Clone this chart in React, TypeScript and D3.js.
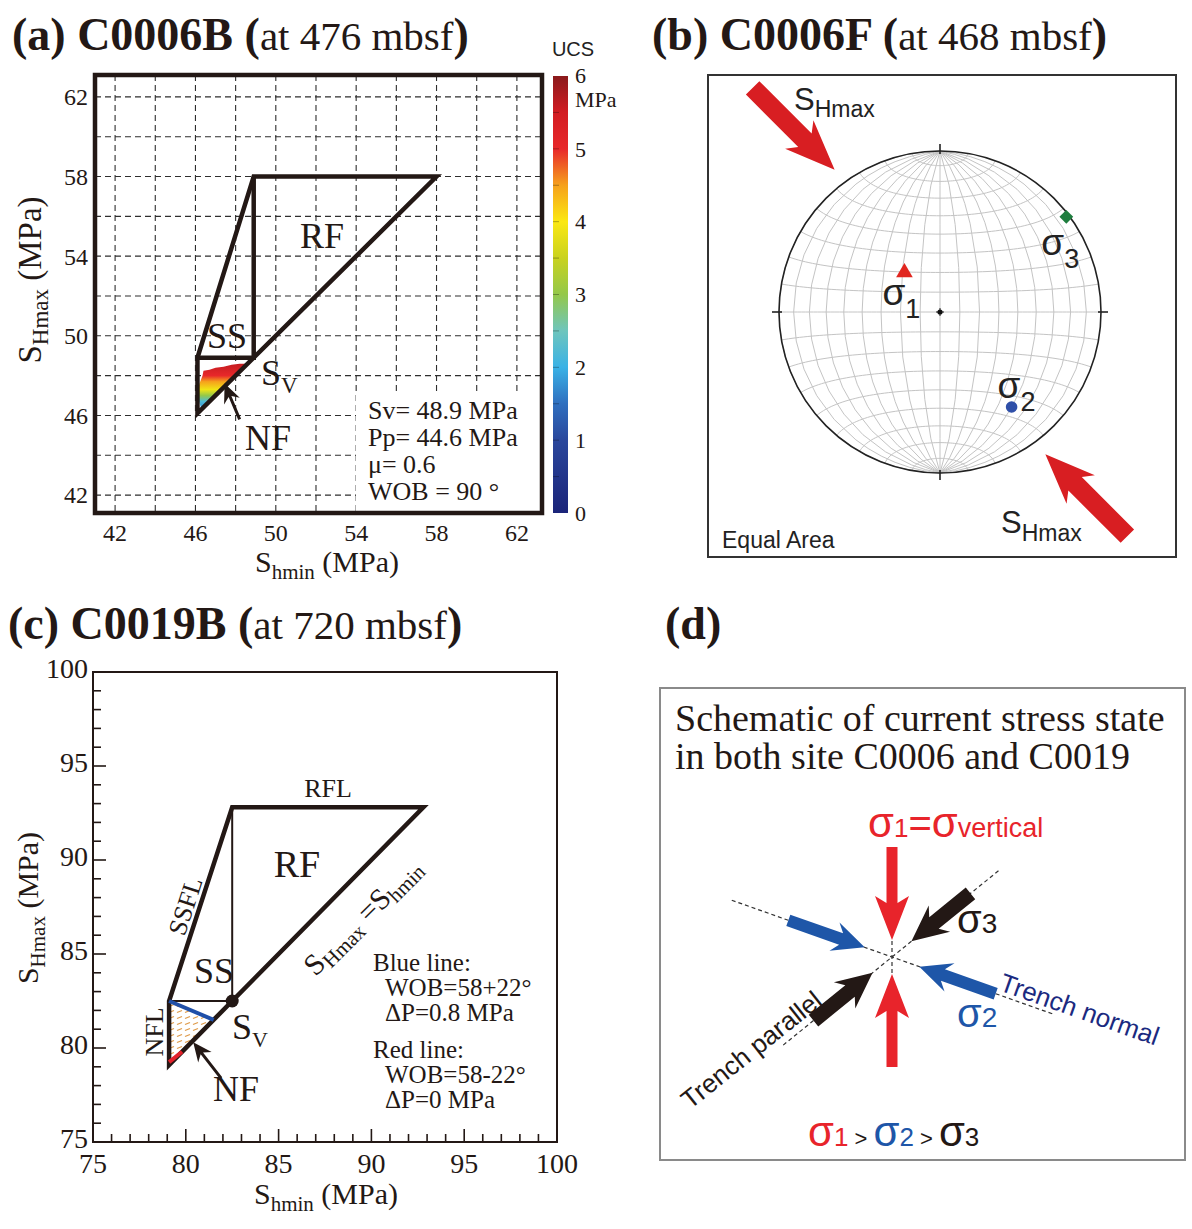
import React from 'react';
import * as d3 from 'd3';

const SERIF = '"Liberation Serif", "Times New Roman", serif';
const SANS = '"Liberation Sans", Arial, sans-serif';
const INK = '#231815';

// ---------- (a) C0006B, stress polygon ----------
const aTickValues = [42, 46, 50, 54, 58, 62];
const aGridValues = [42, 44, 46, 48, 50, 52, 54, 56, 58, 60, 62];
const aSv = 48.9;
const aShminMin = 46.1;
const aShmaxMax = 58;
const aInfoLines = ['Sv= 48.9 MPa', 'Pp= 44.6 MPa', 'μ= 0.6', 'WOB = 90 °'];
// outline of the UCS patch, [Shmin, SHmax] pairs, closed along SHmax = Shmin
const aUcsShmin = [46.3, 46.15, 46.1, 46.2, 46.35, 46.4, 46.7, 47.0, 47.4, 47.8, 48.2, 48.6];
const aUcsShmax = [46.3, 46.8, 47.2, 47.6, 48.0, 48.25, 48.3, 48.4, 48.45, 48.55, 48.6, 48.6];
// UCS needed (MPa) by SHmax level inside the patch
const aUcsLevel = [46.4, 46.7, 47.0, 47.3, 47.7, 48.0, 48.6];
const aUcsValue = [1.8, 2.2, 3.0, 3.9, 4.5, 5.0, 5.6];
const ucsTicks = [0, 1, 2, 3, 4, 5, 6];
const jetValues = [0, 1, 1.5, 2, 2.5, 3, 3.5, 4, 4.5, 5, 5.5, 6];
const jetColors = ['#1b2479', '#2a479c', '#2f6fbf', '#3ab2e6', '#6ec5bd', '#94c84a', '#c9d21f', '#fbe812', '#f6a11c', '#e8282a', '#d21c22', '#8a1a1c'];

// ---------- (b) C0006F, stereonet ----------
const stressAxes = [
  { name: '1', trend: 318, plunge: 63, color: '#e1261f', symbol: 'triangle' },
  { name: '2', trend: 143, plunge: 27, color: '#2f4fa8', symbol: 'circle' },
  { name: '3', trend: 53, plunge: 2, color: '#1e7d3e', symbol: 'diamond' },
];
const shmaxAzimuth = 135;

// ---------- (c) C0019B, stress polygon ----------
const cTickValues = [75, 80, 85, 90, 95, 100];
const cMinorValues = [76, 77, 78, 79, 81, 82, 83, 84, 86, 87, 88, 89, 91, 92, 93, 94, 96, 97, 98, 99];
const cSv = 82.5;
const cShminMin = 79.1;
const cShmaxMax = 92.8;
const cBlueShmin = [79.1, 81.5];
const cBlueShmax = [82.5, 81.5];
const cRedShmin = [79.1, 79.8];
const cRedShmax = [79.25, 79.8];
const cInfoLines = ['Blue line:', 'WOB=58+22°', 'ΔP=0.8 MPa', 'Red line:', 'WOB=58-22°', 'ΔP=0 MPa'];

// ---------- (d) schematic ----------
// screen angle of each principal axis (deg, clockwise from +x)
const schematicAxes = [
  { name: '1', angle: 90, color: '#e8242b' },
  { name: '2', angle: 19.5, color: '#1e56a8' },
  { name: '3', angle: -39, color: INK },
];

type Pt = [number, number];

function arrowShape(tail: Pt, tip: Pt, shaft: number, head: number, headLen: number, notch = 0): string {
  const [x1, y1] = tail;
  const [x2, y2] = tip;
  const L = Math.hypot(x2 - x1, y2 - y1);
  const ux = (x2 - x1) / L, uy = (y2 - y1) / L;
  const nx = -uy, ny = ux;
  const bx = x2 - ux * headLen, by = y2 - uy * headLen;
  const sx = bx + ux * notch, sy = by + uy * notch;
  const pts: Pt[] = [
    [x1 + nx * shaft / 2, y1 + ny * shaft / 2],
    [sx + nx * shaft / 2, sy + ny * shaft / 2],
    [bx + nx * head / 2, by + ny * head / 2],
    [x2, y2],
    [bx - nx * head / 2, by - ny * head / 2],
    [sx - nx * shaft / 2, sy - ny * shaft / 2],
    [x1 - nx * shaft / 2, y1 - ny * shaft / 2],
  ];
  return (d3.line()(pts) ?? '') + 'Z';
}

function Title({ x, y, tag, site, depth }: { x: number; y: number; tag: string; site?: string; depth?: string }) {
  return (
    <text x={x} y={y} fontFamily={SERIF} fill={INK}>
      <tspan fontWeight="bold" fontSize={46}>{tag}{site ? ` ${site} (` : ''}</tspan>
      {depth && <tspan fontSize={41}>{depth}</tspan>}
      {depth && <tspan fontWeight="bold" fontSize={46}>)</tspan>}
    </text>
  );
}

function PanelA() {
  const x = d3.scaleLinear().domain([41, 63.25]).range([95, 542]);
  const y = d3.scaleLinear().domain([41.1, 63.1]).range([513, 75]);
  const line = d3.line<Pt>().x(d => x(d[0])).y(d => y(d[1]));
  const outline: Pt[] = [[aShminMin, aShminMin], [aShminMin, aSv], [aSv, aShmaxMax], [aShmaxMax, aShmaxMax]];
  const patch: Pt[] = aUcsShmin.map((s, i) => [s, aUcsShmax[i]]);
  const jet = d3.scaleLinear<string>().domain(jetValues).range(jetColors);
  const ucsY = d3.scaleLinear().domain([0, 6]).range([513, 76]);
  const g0 = y(aUcsLevel[0]);
  const g1 = y(aUcsLevel[aUcsLevel.length - 1]);
  const [x0, x1] = x.range();
  const [yb, yt] = y.range();
  const nfTail: Pt = [x(48.2), y(45.8)];
  const nfTip: Pt = [x(47.45), y(47.6)];
  return (
    <g>
      <defs>
        <linearGradient id="ucsPatch" gradientUnits="userSpaceOnUse" x1={0} x2={0} y1={g0} y2={g1}>
          {aUcsLevel.map((lv, i) => (
            <stop key={i} offset={(y(lv) - g0) / (g1 - g0)} stopColor={jet(aUcsValue[i])} />
          ))}
        </linearGradient>
        <linearGradient id="ucsBar" x1={0} x2={0} y1={1} y2={0}>
          {jetValues.map((v, i) => (
            <stop key={i} offset={v / 6} stopColor={jetColors[i]} />
          ))}
        </linearGradient>
      </defs>
      <Title x={12} y={50} tag="(a)" site="C0006B" depth="at 476 mbsf" />

      {/* dashed grid */}
      {aGridValues.map(v => (
        <g key={v} stroke="#2e2e2e" strokeWidth={1.1} strokeDasharray="6 4">
          <line x1={x(v)} x2={x(v)} y1={yt} y2={yb} />
          <line x1={x0} x2={x1} y1={y(v)} y2={y(v)} />
        </g>
      ))}
      {/* blank area behind the parameter box */}
      <rect x={356} y={394} width={x1 - 356} height={yb - 394} fill="#fff" />

      {/* UCS patch */}
      <path d={line(patch) + 'Z'} fill="url(#ucsPatch)" />

      {/* stress polygon */}
      <g fill="none" stroke={INK} strokeWidth={4.5} strokeLinejoin="miter">
        <path d={line(outline) + 'Z'} />
        <path d={line([[aShminMin, aSv], [aSv, aSv], [aSv, aShmaxMax]]) ?? ''} />
      </g>
      <rect x={x0} y={yt} width={x1 - x0} height={yb - yt} fill="none" stroke={INK} strokeWidth={4.5} />

      {/* labels */}
      <g fontFamily={SERIF} fill={INK}>
        <text x={227} y={348} fontSize={36} textAnchor="middle">SS</text>
        <text x={322} y={248} fontSize={36} textAnchor="middle">RF</text>
        <text x={261} y={385} fontSize={36}>S<tspan fontSize={23} dy={8}>V</tspan></text>
        <text x={268} y={450} fontSize={36} textAnchor="middle">NF</text>
        {aInfoLines.map((t, i) => (
          <text key={i} x={368} y={419 + i * 27} fontSize={26}>{t}</text>
        ))}
      </g>
      <path d={arrowShape(nfTail, nfTip, 3, 17, 19, 5)} fill={INK} />

      {/* axes labels */}
      <g fontFamily={SERIF} fill={INK} fontSize={24}>
        {aTickValues.map(v => (
          <text key={'y' + v} x={88} y={y(v)} dy="0.35em" textAnchor="end">{v}</text>
        ))}
        {aTickValues.map(v => (
          <text key={'x' + v} x={x(v)} y={541} textAnchor="middle">{v}</text>
        ))}
      </g>
      <text x={327} y={572} fontFamily={SERIF} fontSize={30} fill={INK} textAnchor="middle">
        S<tspan fontSize={21} dy={7}>hmin</tspan><tspan dy={-7}> (MPa)</tspan>
      </text>
      <text transform="translate(41,280) rotate(-90)" fontFamily={SERIF} fontSize={33} fill={INK} textAnchor="middle">
        S<tspan fontSize={23} dy={7}>Hmax</tspan><tspan dy={-7}> (MPa)</tspan>
      </text>

      {/* colour bar */}
      <text x={573} y={56} fontFamily={SANS} fontSize={20} fill="#222" textAnchor="middle">UCS</text>
      <rect x={553} y={ucsY(6)} width={15} height={ucsY(0) - ucsY(6)} fill="url(#ucsBar)" />
      {d3.range(0.5, 6, 0.5).map(v => (
        <line key={v} x1={553} x2={559} y1={ucsY(v)} y2={ucsY(v)} stroke="#000" strokeOpacity={0.3} strokeWidth={1} />
      ))}
      <g fontFamily={SERIF} fontSize={22} fill={INK}>
        {ucsTicks.filter(v => v < 6).map(v => (
          <text key={v} x={575} y={ucsY(v)} dy="0.35em">{v}</text>
        ))}
        <text x={575} y={ucsY(6) + 7}>6</text>
        <text x={575} y={ucsY(6) + 31}>MPa</text>
      </g>
    </g>
  );
}

function PanelB() {
  const cx = 940, cy = 312, R = 161;
  const proj = d3.geoAzimuthalEqualArea().scale(R / Math.SQRT2).translate([cx, cy]).rotate([0, 0]);
  const path = d3.geoPath(proj);
  const grat = d3.geoGraticule().extent([[-90, -90], [90, 90]]).step([10, 10]);
  const place = (trend: number, plunge: number): Pt => {
    const rho = R * Math.SQRT2 * Math.sin(((90 - plunge) / 2) * Math.PI / 180);
    const t = trend * Math.PI / 180;
    return [cx + rho * Math.sin(t), cy - rho * Math.cos(t)];
  };
  const symbolPath = (kind: string) => {
    if (kind === 'triangle') return d3.symbol().type(d3.symbolTriangle).size(120)() ?? '';
    if (kind === 'circle') return d3.symbol().type(d3.symbolCircle).size(105)() ?? '';
    return d3.symbol().type(d3.symbolSquare).size(95)() ?? '';
  };
  const labelOffset: Record<string, Pt> = { '1': [-22, 33], '2': [-14, -9], '3': [-25, 38] };
  // SHmax arrows: pointing inward along the SHmax azimuth
  const a = (shmaxAzimuth * Math.PI) / 180;
  const dir: Pt = [Math.sin(a), -Math.cos(a)];
  const perp: Pt = [-dir[1], dir[0]];
  const arrows = [-1, 1].map(s => {
    const tip: Pt = [cx + s * (dir[0] * 175 + perp[0] * 26), cy + s * (dir[1] * 175 + perp[1] * 26)];
    const tail: Pt = [tip[0] + s * dir[0] * 116, tip[1] + s * dir[1] * 116];
    return arrowShape(tail, tip, 19, 40, 50, 8);
  });
  return (
    <g>
      <Title x={652} y={50} tag="(b)" site="C0006F" depth="at 468 mbsf" />
      <rect x={708} y={75} width={468} height={482} fill="none" stroke="#333" strokeWidth={2} />
      <path d={path(grat()) ?? ''} fill="none" stroke="#c4c4c4" strokeWidth={1} />
      <circle cx={cx} cy={cy} r={R} fill="none" stroke="#222" strokeWidth={1.6} />
      <g stroke="#222" strokeWidth={1.6}>
        <line x1={cx} x2={cx} y1={cy - R - 7} y2={cy - R + 3} />
        <line x1={cx} x2={cx} y1={cy + R - 3} y2={cy + R + 7} />
        <line x1={cx - R - 7} x2={cx - R + 3} y1={cy} y2={cy} />
        <line x1={cx + R - 3} x2={cx + R + 7} y1={cy} y2={cy} />
        <line x1={cx - 4} x2={cx + 4} y1={cy} y2={cy} strokeWidth={1} />
        <line x1={cx} x2={cx} y1={cy - 4} y2={cy + 4} strokeWidth={1} />
      </g>
      <circle cx={cx} cy={cy} r={2.6} fill="#111" />
      {arrows.map((d, i) => <path key={i} d={d} fill="#d81e22" />)}
      {stressAxes.map(ax => {
        const [px, py] = place(ax.trend, ax.plunge);
        const [ox, oy] = labelOffset[ax.name];
        return (
          <g key={ax.name}>
            <path d={symbolPath(ax.symbol)} transform={`translate(${px},${py})${ax.symbol === 'diamond' ? ' rotate(45)' : ''}`} fill={ax.color} />
            <text x={px + ox} y={py + oy} fontFamily={SANS} fontSize={37} fill="#222">
              σ<tspan fontSize={27} dy={13}>{ax.name}</tspan>
            </text>
          </g>
        );
      })}
      <g fontFamily={SANS} fill="#222">
        <text x={794} y={110} fontSize={31}>S<tspan fontSize={23} dy={7}>Hmax</tspan></text>
        <text x={1001} y={533} fontSize={31}>S<tspan fontSize={23} dy={8}>Hmax</tspan></text>
        <text x={722} y={548} fontSize={23}>Equal Area</text>
      </g>
    </g>
  );
}

function PanelC() {
  const x = d3.scaleLinear().domain([75, 100]).range([93, 557]);
  const y = d3.scaleLinear().domain([75, 100]).range([1142, 672]);
  const line = d3.line<Pt>().x(d => x(d[0])).y(d => y(d[1]));
  const [x0, x1] = x.range();
  const [yb, yt] = y.range();
  const hatch: Pt[] = [
    [cBlueShmin[0], cBlueShmax[0]],
    [cBlueShmin[1], cBlueShmax[1]],
    [cRedShmin[1], cRedShmax[1]],
    [cRedShmin[0], cRedShmax[0]],
  ];
  const nfTail: Pt = [x(81.9), y(78.4)];
  const nfTip: Pt = [x(80.4), y(80.3)];
  return (
    <g>
      <defs>
        <pattern id="hatch" patternUnits="userSpaceOnUse" width={8} height={6}>
          <line x1={1} y1={4.5} x2={6} y2={2.5} stroke="#df9a48" strokeWidth={1.3} />
        </pattern>
      </defs>
      <Title x={8} y={639} tag="(c)" site="C0019B" depth="at 720 mbsf" />
      <path d={line(hatch) + 'Z'} fill="url(#hatch)" />

      {/* thin interior lines */}
      <g fill="none" stroke={INK} strokeWidth={2}>
        <path d={line([[cShminMin, cSv], [cSv, cSv], [cSv, cShmaxMax]]) ?? ''} />
      </g>
      {/* thick failure lines */}
      <g fill="none" stroke={INK} strokeWidth={4.5} strokeLinejoin="miter">
        <path d={line([[cShminMin, cShminMin], [cShminMin, cSv], [cSv, cShmaxMax], [cShmaxMax, cShmaxMax]]) + 'Z'} />
      </g>
      <path d={line(cBlueShmin.map((s, i) => [s, cBlueShmax[i]] as Pt)) ?? ''} stroke="#1f4fa8" strokeWidth={4} fill="none" />
      <path d={line(cRedShmin.map((s, i) => [s, cRedShmax[i]] as Pt)) ?? ''} stroke="#e3202a" strokeWidth={4} fill="none" />
      <circle cx={x(cSv)} cy={y(cSv)} r={6.5} fill={INK} />
      <path d={arrowShape(nfTail, nfTip, 3, 17, 19, 5)} fill={INK} />

      {/* frame + ticks */}
      <rect x={x0} y={yt} width={x1 - x0} height={yb - yt} fill="none" stroke={INK} strokeWidth={2} />
      <g stroke={INK} strokeWidth={1.6}>
        {cTickValues.map(v => (
          <g key={v}>
            <line x1={x0} x2={x0 + 13} y1={y(v)} y2={y(v)} />
            <line x1={x(v)} x2={x(v)} y1={yb} y2={yb - 13} />
          </g>
        ))}
        {cMinorValues.map(v => (
          <g key={v}>
            <line x1={x0} x2={x0 + 8} y1={y(v)} y2={y(v)} />
            <line x1={x(v)} x2={x(v)} y1={yb} y2={yb - 8} />
          </g>
        ))}
      </g>
      <g fontFamily={SERIF} fill={INK} fontSize={28}>
        {cTickValues.map(v => (
          <text key={'y' + v} x={88} y={y(v) - 4} dy="0.35em" textAnchor="end">{v}</text>
        ))}
        {cTickValues.map(v => (
          <text key={'x' + v} x={x(v)} y={1173} textAnchor="middle">{v}</text>
        ))}
      </g>
      <text x={326} y={1204} fontFamily={SERIF} fontSize={30} fill={INK} textAnchor="middle">
        S<tspan fontSize={21} dy={7}>hmin</tspan><tspan dy={-7}> (MPa)</tspan>
      </text>
      <text transform="translate(38,908) rotate(-90)" fontFamily={SERIF} fontSize={30} fill={INK} textAnchor="middle">
        S<tspan fontSize={21} dy={7}>Hmax</tspan><tspan dy={-7}> (MPa)</tspan>
      </text>

      {/* region labels */}
      <g fontFamily={SERIF} fill={INK}>
        <text x={328} y={797} fontSize={26} textAnchor="middle">RFL</text>
        <text x={297} y={877} fontSize={38} textAnchor="middle">RF</text>
        <text transform="translate(185,906) rotate(-72)" fontSize={26} textAnchor="middle" dy="0.35em">SSFL</text>
        <text x={214} y={983} fontSize={36} textAnchor="middle">SS</text>
        <text transform="translate(362,916) rotate(-45)" fontSize={30} textAnchor="middle" dy="0.35em">
          S<tspan fontSize={21} dy={5}>Hmax</tspan><tspan dy={-5}> =S</tspan><tspan fontSize={21} dy={5}>hmin</tspan>
        </text>
        <text x={232} y={1039} fontSize={36}>S<tspan fontSize={22} dy={8}>V</tspan></text>
        <text x={236} y={1101} fontSize={36} textAnchor="middle">NF</text>
        <text transform="translate(154,1032) rotate(-90)" fontSize={26} textAnchor="middle" dy="0.35em">NFL</text>
        {cInfoLines.map((t, i) => (
          <text key={i} x={i % 3 === 0 ? 373 : 385} y={971 + i * 25 + (i >= 3 ? 12 : 0)} fontSize={25}>{t}</text>
        ))}
      </g>
    </g>
  );
}

function PanelD() {
  const cx = 892, cy = 957;
  const rad = (deg: number) => (deg * Math.PI) / 180;
  const style: Record<string, { tip: number; tail: number; shaft: number; head: number; headLen: number }> = {
    '1': { tip: 17, tail: 110, shaft: 11, head: 34, headLen: 44 },
    '2': { tip: 29, tail: 110, shaft: 12, head: 30, headLen: 32 },
    '3': { tip: 25, tail: 101, shaft: 15, head: 34, headLen: 36 },
  };
  const dashLen: Record<string, number> = { '1': 16, '2': 170, '3': 140 };
  return (
    <g>
      <Title x={665} y={639} tag="(d)" />
      <rect x={660} y={688} width={525} height={472} fill="none" stroke="#8a8a8a" strokeWidth={2} />
      <g fontFamily={SERIF} fontSize={38} fill={INK}>
        <text x={675} y={731}>Schematic of current stress state</text>
        <text x={675} y={769}>in both site C0006 and C0019</text>
      </g>
      {schematicAxes.map(ax => {
        const u: Pt = [Math.cos(rad(ax.angle)), Math.sin(rad(ax.angle))];
        const L = dashLen[ax.name];
        return (
          <line key={'d' + ax.name} x1={cx - u[0] * L} y1={cy - u[1] * L} x2={cx + u[0] * L} y2={cy + u[1] * L}
            stroke="#333" strokeWidth={1.2} strokeDasharray="4 3" />
        );
      })}
      {schematicAxes.flatMap(ax => {
        const s = style[ax.name];
        const u: Pt = [Math.cos(rad(ax.angle)), Math.sin(rad(ax.angle))];
        return [-1, 1].map(k => {
          const tip: Pt = [cx + k * u[0] * s.tip, cy + k * u[1] * s.tip];
          const tail: Pt = [cx + k * u[0] * s.tail, cy + k * u[1] * s.tail];
          return <path key={ax.name + k} d={arrowShape(tail, tip, s.shaft, s.head, s.headLen, 7)} fill={ax.color} />;
        });
      })}
      <g fontFamily={SANS}>
        <text x={868} y={837} fill="#e8242b">
          <tspan fontSize={42}>σ</tspan><tspan fontSize={26}>1</tspan><tspan fontSize={40}>=</tspan>
          <tspan fontSize={42}>σ</tspan><tspan fontSize={27}>vertical</tspan>
        </text>
        <text x={957} y={933} fill={INK}><tspan fontSize={40}>σ</tspan><tspan fontSize={28}>3</tspan></text>
        <text x={957} y={1027} fill="#1e56a8"><tspan fontSize={40}>σ</tspan><tspan fontSize={28}>2</tspan></text>
        <text transform="translate(998,990) rotate(19.5)" fontSize={26} fill="#1b2a80">Trench normal</text>
        <text transform="translate(690,1110) rotate(-38.5)" fontSize={26} fill={INK}>Trench parallel</text>
        <text x={808} y={1146}>
          <tspan fontSize={42} fill="#e8242b">σ</tspan><tspan fontSize={26} fill="#e8242b">1</tspan>
          <tspan fontSize={22} fill={INK}> &gt; </tspan>
          <tspan fontSize={42} fill="#1e56a8">σ</tspan><tspan fontSize={26} fill="#1e56a8">2</tspan>
          <tspan fontSize={22} fill={INK}> &gt; </tspan>
          <tspan fontSize={42} fill={INK}>σ</tspan><tspan fontSize={26} fill={INK}>3</tspan>
        </text>
      </g>
    </g>
  );
}

export default function App() {
  return (
    <svg width={1192} height={1229} viewBox="0 0 1192 1229" style={{ position: 'absolute', left: 0, top: 0, background: '#fff' }}>
      <rect width={1192} height={1229} fill="#fff" />
      <PanelA />
      <PanelB />
      <PanelC />
      <PanelD />
    </svg>
  );
}
